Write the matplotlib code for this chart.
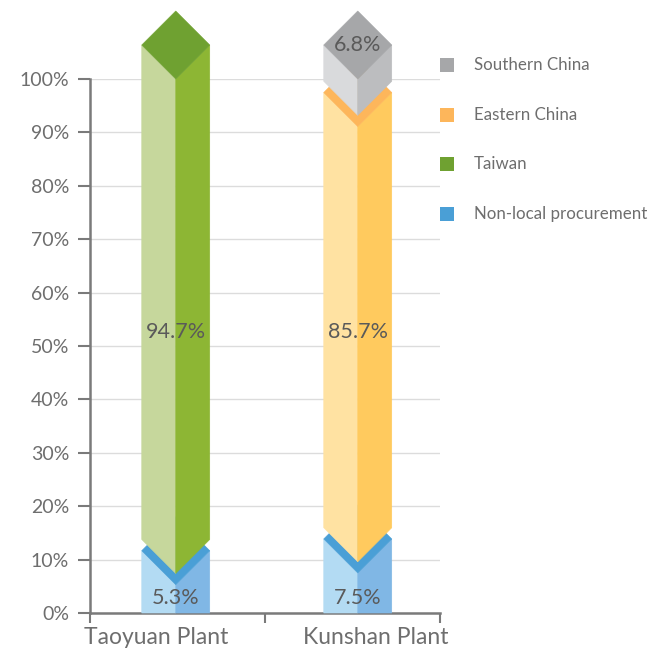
import numpy as np
import matplotlib.pyplot as plt
from matplotlib.patches import Polygon, Rectangle

plants = ['Taoyuan Plant', 'Kunshan Plant']
regions = ['Southern China', 'Eastern China', 'Taiwan', 'Non-local procurement']

# bottom-to-top stacks for each plant
taoyuan_regions = ['Non-local procurement', 'Taiwan']
taoyuan_values = [5.3, 94.7]
kunshan_regions = ['Non-local procurement', 'Eastern China', 'Southern China']
kunshan_values = [7.5, 85.7, 6.8]

yticks = list(range(0, 101, 10))
ytick_labels = [f'{t}%' for t in yticks]

# left face, right face, top face
COLORS = {
    'Non-local procurement': ('#b3dbf3', '#80b7e5', '#4a9fd6'),
    'Taiwan': ('#c6d79c', '#8db634', '#6fa131'),
    'Eastern China': ('#ffe2a2', '#ffca5e', '#fdb65b'),
    'Southern China': ('#d9dadc', '#bcbdbf', '#a6a7a9'),
}
LEGEND_COLORS = {
    'Southern China': '#a6a7a9',
    'Eastern China': '#fdb65b',
    'Taiwan': '#6fa131',
    'Non-local procurement': '#4a9fd6',
}

W, H = 656, 650
FONT = 'Lato'
TEXT_COLOR = '#6e6e6e'

fig = plt.figure(figsize=(W / 100, H / 100), dpi=100)
ax_l, ax_b, ax_w, ax_h = 90, 37, 350, 534
ax = fig.add_axes([ax_l / W, ax_b / H, ax_w / W, ax_h / H])
ax.set_xlim(0, 2)
ax.set_ylim(0, 100)

px_x = ax_w / 2.0      # pixels per x unit
px_y = ax_h / 100.0    # pixels per y unit
half_px = 34
hw = half_px / px_x
dh = half_px / px_y
gap = 2.1


def draw_prism(xc, regs, vals):
    vals = np.array(vals, dtype=float)
    cum = np.cumsum(vals)
    lo = cum - vals
    hi = cum.copy()
    # gap between neighbours is taken out of the bigger segment
    for i in range(1, len(vals)):
        if vals[i] >= vals[i - 1]:
            lo[i] += gap
        else:
            hi[i - 1] -= gap
    for i, reg in enumerate(regs):
        left_c, right_c, top_c = COLORS[reg]
        side_lo = lo[i] if i == 0 else lo[i] + dh
        left = [(xc - hw, side_lo), (xc, lo[i]), (xc, hi[i]), (xc - hw, hi[i] + dh)]
        right = [(xc, lo[i]), (xc + hw, side_lo), (xc + hw, hi[i] + dh), (xc, hi[i])]
        top = [(xc, hi[i]), (xc + hw, hi[i] + dh), (xc, hi[i] + 2 * dh), (xc - hw, hi[i] + dh)]
        for pts, c in [(left, left_c), (right, right_c), (top, top_c)]:
            ax.add_patch(Polygon(pts, closed=True, facecolor=c, edgecolor=c, lw=0.4,
                                 zorder=3 + i, clip_on=False))
    return lo, hi


# grid and axes
for t in yticks:
    ax.axhline(t, color='#dcdcdc', lw=1.0, zorder=1)
for s in ['top', 'right']:
    ax.spines[s].set_visible(False)
for s in ['left', 'bottom']:
    ax.spines[s].set_color('#7a7a7a')
    ax.spines[s].set_linewidth(1.8)
ax.set_yticks(yticks)
ax.set_yticklabels(ytick_labels, fontsize=14, color=TEXT_COLOR, family=FONT)
ax.set_xticks([0, 1, 2])
ax.set_xticklabels([])
ax.tick_params(axis='y', length=9, width=1.5, color='#7a7a7a', pad=6)
ax.tick_params(axis='x', length=7, width=1.5, color='#7a7a7a')

bar_x = [0.49, 1.53]
draw_prism(bar_x[0], taoyuan_regions, taoyuan_values)
lo_k, hi_k = draw_prism(bar_x[1], kunshan_regions, kunshan_values)

label_kw = dict(ha='center', va='center', fontsize=15.5, color='#5a5a5a',
                family=FONT, zorder=10, clip_on=False)
ax.text(bar_x[0], 2.8, f'{taoyuan_values[0]}%', **label_kw)
ax.text(bar_x[0], 52.7, f'{taoyuan_values[1]}%', **label_kw)
ax.text(bar_x[1], 2.8, f'{kunshan_values[0]}%', **label_kw)
ax.text(bar_x[1], 52.7, f'{kunshan_values[1]}%', **label_kw)
ax.text(bar_x[1], hi_k[2] + dh, f'{kunshan_values[2]}%', **label_kw)

# category labels
for name, xp in zip(plants, [156, 376]):
    fig.text(xp / W, 1 - 637 / H, name, ha='center', va='center', fontsize=16.5,
             color=TEXT_COLOR, family=FONT)

# legend
for reg, yp in zip(regions, [65, 115, 164, 214]):
    sq = 14
    fig.add_artist(Rectangle(((447 - sq / 2) / W, 1 - (yp + sq / 2) / H), sq / W, sq / H,
                             transform=fig.transFigure, facecolor=LEGEND_COLORS[reg],
                             edgecolor='none'))
    fig.text(474 / W, 1 - yp / H, reg, ha='left', va='center', fontsize=12.2,
             color=TEXT_COLOR, family=FONT)

fig.savefig('out.png', dpi=100)
